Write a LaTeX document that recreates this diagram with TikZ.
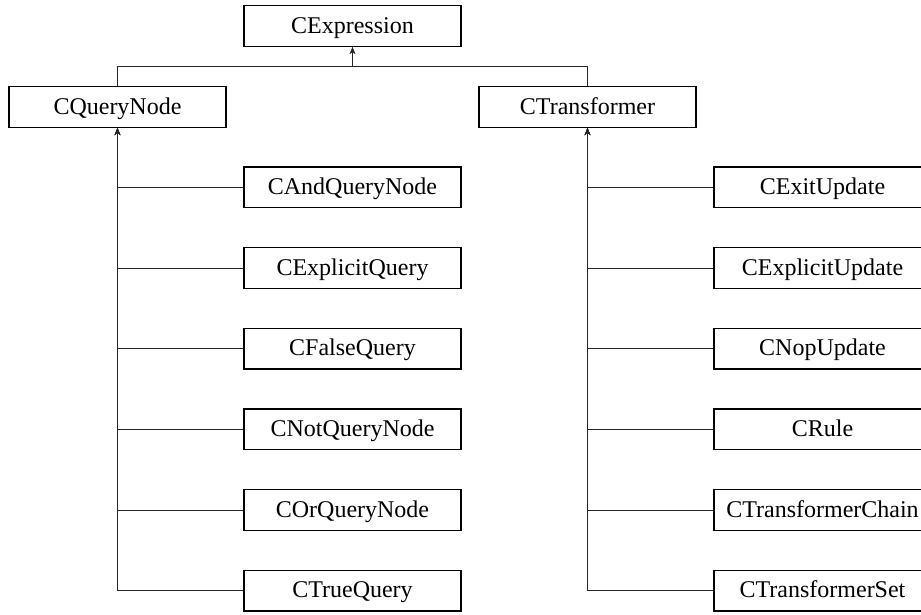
\documentclass[tikz,border=0pt]{standalone}
\usepackage{fontspec}
\setmainfont{Liberation Serif}
\usetikzlibrary{arrows.meta}
\tikzset{
  cls/.style={draw, line width=1.4pt, minimum width=217pt, minimum height=40.6pt, inner sep=0pt, text height=16pt, text depth=2pt, font=\fontsize{24}{28}\selectfont, fill=white},
  conn/.style={line width=0.9pt, draw=black!85},
  inh/.style={conn, -{Stealth[length=7pt,width=5.5pt]}}
}
\begin{document}
\begin{tikzpicture}[x=1pt,y=-1pt]
\path[use as bounding box, clip] (0,0) rectangle (921,614);
\fill[white] (0,0) rectangle (921,614);
\node[cls] (root) at (352.5,26) {CExpression};
\node[cls] (qn) at (117.5,107) {CQueryNode};
\node[cls] (tr) at (587.5,107) {CTransformer};
\coordinate (j) at (352.5,66.7);
\draw[inh] (qn.north) |- (j) -- (root.south);
\draw[inh] (tr.north) |- (j) -- (root.south);
% left children
\node[cls] (q1) at (352.5,187.3) {CAndQueryNode};
\node[cls] (q2) at (352.5,268) {CExplicitQuery};
\node[cls] (q3) at (352.5,348.7) {CFalseQuery};
\node[cls] (q4) at (352.5,429.3) {CNotQueryNode};
\node[cls] (q5) at (352.5,510) {COrQueryNode};
\node[cls] (q6) at (352.5,590.7) {CTrueQuery};
% right children
\node[cls] (t1) at (822.5,187.3) {CExitUpdate};
\node[cls] (t2) at (822.5,268) {CExplicitUpdate};
\node[cls] (t3) at (822.5,348.7) {CNopUpdate};
\node[cls] (t4) at (822.5,429.3) {CRule};
\node[cls] (t5) at (822.5,510) {CTransformerChain};
\node[cls] (t6) at (822.5,590.7) {CTransformerSet};
\foreach \c in {q1,q2,q3,q4,q5,q6} \draw[inh] (\c.west) -| (qn.south);
\foreach \c in {t1,t2,t3,t4,t5,t6} \draw[inh] (\c.west) -| (tr.south);
\end{tikzpicture}
\end{document}
